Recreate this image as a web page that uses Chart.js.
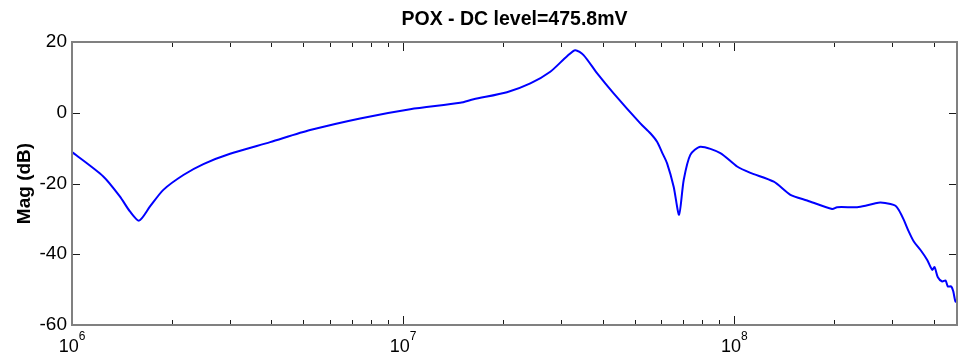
<!DOCTYPE html>
<html>
<head>
<meta charset="utf-8">
<script src="https://cdn.jsdelivr.net/npm/chart.js@4/dist/chart.umd.min.js"></script>
<style>
  body { margin: 0; background: #fff; }
  #wrap { width: 958px; height: 358px; }
</style>
</head>
<body>
<div id="wrap"><canvas id="bode" width="958" height="358"></canvas></div>
<script>
// frequency (Hz) and magnitude (dB)
const freqs = [
  1.000e6, 1.243e6, 1.396e6, 1.496e6, 1.594e6, 1.720e6, 1.887e6, 2.169e6,
  2.493e6, 3.001e6, 3.965e6, 5.236e6, 7.41e6, 1.05e7, 1.486e7, 1.631e7,
  2.057e7, 2.42e7, 2.78e7, 3.124e7, 3.308e7, 3.504e7, 3.847e7, 4.319e7,
  5.2e7, 5.574e7, 5.842e7, 6.06e7, 6.263e7, 6.556e7, 6.807e7, 7.03e7, 7.36e7, 7.895e7,
  9.07e7, 1.019e8, 1.118e8, 1.315e8, 1.476e8, 1.658e8, 1.973e8, 2.042e8,
  2.348e8, 2.488e8, 2.667e8, 2.761e8, 2.96e8, 3.065e8, 3.136e8, 3.247e8,
  3.362e8, 3.481e8, 3.647e8, 3.821e8, 3.957e8, 4.021e8, 4.114e8, 4.242e8,
  4.341e8, 4.411e8, 4.517e8, 4.58e8, 4.653e8, 4.727e8
];
const magDb = [
  -11.1, -18.0, -23.7, -27.9, -30.5, -26.5, -21.8, -17.6,
  -14.5, -11.6, -8.3, -4.9, -1.6, 1.0, 2.8, 3.8,
  5.8, 8.3, 11.6, 16.0, 17.7, 16.3, 11.2, 5.5,
  -3.0, -5.8, -8.2, -11.4, -14.3, -20.9, -28.8, -19.0, -11.9, -9.6,
  -11.4, -15.2, -17.0, -19.5, -23.2, -24.8, -27.2, -26.7,
  -26.7, -26.3, -25.6, -25.4, -25.8, -26.3, -27.5, -30.3,
  -33.6, -36.4, -38.8, -41.6, -44.4, -43.6, -46.5, -47.7,
  -47.4, -49.1, -49.1, -50.5, -53.4, -52.4
];
const xDecades = [6, 7, 8];
const yTicks = [-60, -40, -20, 0, 20];
const titleText = 'POX - DC level=475.8mV';
const yLabel = 'Mag (dB)';

const fontFamily = '"Liberation Sans", Arial, sans-serif';

// matlab style box, inward ticks and 10^n labels
const matlabAxes = {
  id: 'matlabAxes',
  afterDraw(chart) {
    const { ctx, chartArea: a, scales: { x, y } } = chart;
    ctx.save();
    ctx.strokeStyle = '#1a1a1a';
    ctx.lineWidth = 1;
    ctx.beginPath();
    x.ticks.forEach(t => {
      const px = Math.round(x.getPixelForValue(t.value)) + 0.5;
      const len = t.major ? 9 : 5;
      ctx.moveTo(px, a.bottom); ctx.lineTo(px, a.bottom - len);
      ctx.moveTo(px, a.top); ctx.lineTo(px, a.top + len);
    });
    y.ticks.forEach(t => {
      const py = Math.round(y.getPixelForValue(t.value)) + 0.5;
      ctx.moveTo(a.left, py); ctx.lineTo(a.left + 8, py);
      ctx.moveTo(a.right, py); ctx.lineTo(a.right - 8, py);
    });
    ctx.stroke();

    ctx.strokeStyle = '#808080';
    ctx.lineWidth = 2;
    ctx.strokeRect(a.left, a.top, a.right - a.left, a.bottom - a.top);

    ctx.fillStyle = '#000';
    ctx.textBaseline = 'alphabetic';
    ctx.textAlign = 'left';
    xDecades.forEach(d => {
      const px = x.getPixelForValue(Math.pow(10, d));
      ctx.font = '18px ' + fontFamily;
      const w1 = ctx.measureText('10').width;
      ctx.font = '12px ' + fontFamily;
      const w2 = ctx.measureText(String(d)).width;
      const start = px - (w1 + w2) / 2;
      ctx.font = '18px ' + fontFamily;
      ctx.fillText('10', start, 352);
      ctx.font = '12px ' + fontFamily;
      ctx.fillText(String(d), start + w1, 340);
    });
    ctx.restore();
  }
};

const ctx = document.getElementById('bode').getContext('2d');
new Chart(ctx, {
  type: 'line',
  data: {
    datasets: [{
      data: freqs.map((f, i) => ({ x: f, y: magDb[i] })),
      borderColor: '#0000ff',
      borderWidth: 2,
      pointRadius: 0,
      tension: 0.25,
      fill: false
    }]
  },
  options: {
    responsive: false,
    animation: false,
    layout: { padding: { left: 0, right: 1, top: 0, bottom: 0 } },
    plugins: {
      legend: { display: false },
      tooltip: { enabled: false },
      title: {
        display: true,
        text: titleText,
        fullSize: false,
        color: '#000',
        font: { family: fontFamily, size: 19.5, weight: 'bold' },
        padding: { top: 8, bottom: 10.6 }
      }
    },
    scales: {
      x: {
        type: 'logarithmic',
        min: 1e6,
        max: 4.7e8,
        grid: { display: false },
        border: { display: false },
        ticks: { display: false },
        afterBuildTicks: s => {
          const ticks = [];
          xDecades.forEach(d => {
            for (let m = 1; m <= 9; m++) {
              const v = m * Math.pow(10, d);
              if (v <= s.max) ticks.push({ value: v, major: m === 1 });
            }
          });
          s.ticks = ticks;
        },
        afterFit: s => { s.height = 33; }
      },
      y: {
        min: -60,
        max: 20,
        grid: { display: false, drawTicks: false },
        border: { display: false },
        afterBuildTicks: s => { s.ticks = yTicks.map(v => ({ value: v })); },
        ticks: {
          color: '#000',
          padding: 5,
          font: { family: fontFamily, size: 19 }
        },
        title: {
          display: true,
          text: yLabel,
          color: '#000',
          font: { family: fontFamily, size: 19, weight: 'bold' },
          padding: { top: 13.6, bottom: 0 }
        },
        afterFit: s => { s.width = 72; }
      }
    }
  },
  plugins: [matlabAxes]
});
</script>
</body>
</html>
